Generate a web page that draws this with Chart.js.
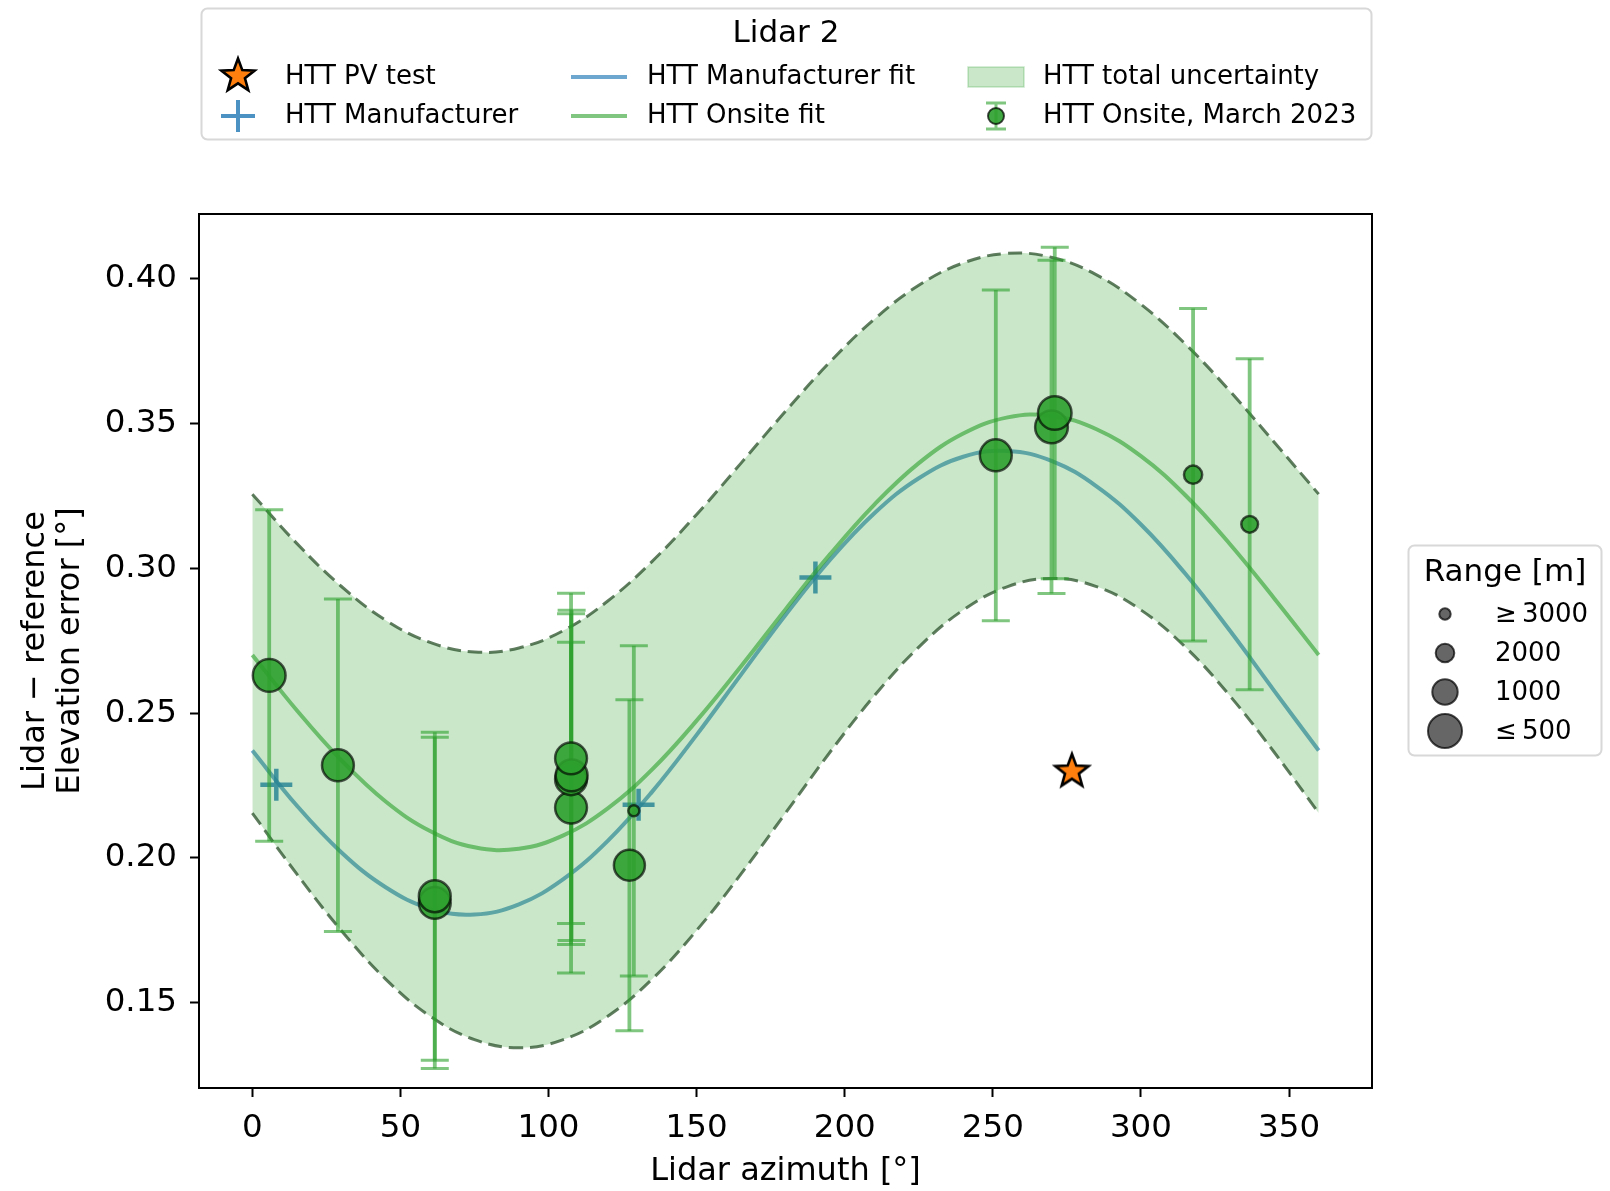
<!DOCTYPE html>
<html>
<head>
<meta charset="utf-8">
<script src="https://cdn.jsdelivr.net/npm/chart.js@4.4.1/dist/chart.umd.min.js"></script>
<style>
  html, body { margin: 0; padding: 0; background: #fff; }
  canvas { display: block; }
</style>
</head>
<body>
<canvas id="chart" width="1610" height="1191"></canvas>
<script>
// fit curves, every 15 deg
const fitAzimuth = [0, 15, 30, 45, 60, 75, 90, 105, 120, 135, 150, 165, 180, 195, 210, 225, 240, 255, 270, 285, 300, 315, 330, 345, 360];
const manufacturerFit = [0.2371, 0.2181, 0.2020, 0.1899, 0.1825, 0.1805, 0.1840, 0.1927, 0.2059, 0.2229, 0.2425, 0.2633, 0.2839, 0.3029, 0.3190, 0.3311, 0.3385, 0.3405, 0.3370, 0.3283, 0.3151, 0.2981, 0.2785, 0.2577, 0.2371];
const onsiteFit = [0.2701, 0.2510, 0.2338, 0.2195, 0.2093, 0.2037, 0.2032, 0.2078, 0.2171, 0.2306, 0.2474, 0.2662, 0.2858, 0.3048, 0.3220, 0.3363, 0.3465, 0.3521, 0.3526, 0.3480, 0.3387, 0.3252, 0.3084, 0.2896, 0.2701];
const upperBound = [0.3256, 0.3086, 0.2938, 0.2821, 0.2744, 0.2711, 0.2725, 0.2785, 0.2887, 0.3024, 0.3186, 0.3363, 0.3542, 0.3712, 0.3860, 0.3977, 0.4054, 0.4087, 0.4073, 0.4013, 0.3911, 0.3774, 0.3612, 0.3435, 0.3256];
const lowerBound = [0.2155, 0.1945, 0.1750, 0.1582, 0.1454, 0.1373, 0.1345, 0.1373, 0.1454, 0.1582, 0.1750, 0.1945, 0.2155, 0.2365, 0.2560, 0.2728, 0.2856, 0.2937, 0.2965, 0.2937, 0.2856, 0.2728, 0.2560, 0.2365, 0.2155];

// onsite measurements (March 2023)
const onsiteAzimuth = [5.7, 28.9, 61.6, 61.6, 107.6, 107.6, 107.8, 107.6, 127.3, 128.8, 251.0, 269.8, 270.9, 317.6, 336.7];
const onsiteError = [0.2630, 0.2320, 0.1845, 0.1868, 0.2174, 0.2272, 0.2285, 0.2344, 0.1975, 0.2163, 0.3390, 0.3488, 0.3536, 0.3323, 0.3152];
const onsiteUnc = [0.0572, 0.0574, 0.0572, 0.0566, 0.0571, 0.0571, 0.0570, 0.0570, 0.0571, 0.0570, 0.0571, 0.0575, 0.0572, 0.0574, 0.0571];
const onsiteRange = [550, 600, 600, 600, 600, 600, 600, 600, 650, 3000, 600, 550, 500, 2000, 2200];

const manufacturerAzimuth = [8.1, 130.4, 190.1];
const manufacturerError = [0.2253, 0.2184, 0.2968];

const pvAzimuth = [276.7];
const pvError = [0.2302];

const xTicks = [0, 50, 100, 150, 200, 250, 300, 350];
const yTicks = [0.15, 0.20, 0.25, 0.30, 0.35, 0.40];

const legendRanges = [3000, 2000, 1000, 500];
const legendRangeLabels = ['\u2265\u20093000', '2000', '1000', '\u2264\u2009500'];

const FONT = "'DejaVu Sans', sans-serif";
Chart.defaults.font.family = FONT;
Chart.defaults.color = '#000';

// marker size from range, as in the size legend
function rangeRadius(r) {
  const steps = [[500, 18], [1000, 13.7], [2000, 10.3], [3000, 6.7]];
  if (r <= steps[0][0]) return steps[0][1];
  for (let i = 1; i < steps.length; i++) {
    if (r <= steps[i][0]) {
      const t = (r - steps[i - 1][0]) / (steps[i][0] - steps[i - 1][0]);
      return steps[i - 1][1] + t * (steps[i][1] - steps[i - 1][1]);
    }
  }
  return steps[steps.length - 1][1];
}

function toXY(xs, ys) {
  return xs.map((x, i) => ({ x: x, y: ys[i] }));
}

// star marker
const star = document.createElement('canvas');
star.width = 44; star.height = 44;
(function () {
  const c = star.getContext('2d');
  c.beginPath();
  for (let i = 0; i < 10; i++) {
    const r = i % 2 === 0 ? 17.5 : 7.3;
    const a = -Math.PI / 2 + i * Math.PI / 5;
    c.lineTo(22 + r * Math.cos(a), 23 + r * Math.sin(a));
  }
  c.closePath();
  c.fillStyle = '#ff7f0e';
  c.fill();
  c.lineWidth = 2.6;
  c.strokeStyle = '#000';
  c.stroke();
})();

const GREEN_A = 'rgba(44,160,44,0.6)';
const BLUE_A = 'rgba(31,119,180,0.65)';
const BAND = 'rgba(44,160,44,0.25)';
const BAND_EDGE = 'rgba(35,75,35,0.72)';
const ONSITE_IDX = 5;

const decor = {
  id: 'decor',
  beforeDatasetDraw(chart, args) {
    if (args.index !== ONSITE_IDX) return;
    const { ctx, scales: { x, y } } = chart;
    ctx.save();
    ctx.strokeStyle = GREEN_A;
    onsiteAzimuth.forEach((az, i) => {
      const px = x.getPixelForValue(az);
      const top = y.getPixelForValue(onsiteError[i] + onsiteUnc[i]);
      const bot = y.getPixelForValue(onsiteError[i] - onsiteUnc[i]);
      ctx.lineWidth = 3.8;
      ctx.beginPath();
      ctx.moveTo(px, top); ctx.lineTo(px, bot);
      ctx.stroke();
      ctx.lineWidth = 3;
      ctx.beginPath();
      ctx.moveTo(px - 14, top); ctx.lineTo(px + 14, top);
      ctx.moveTo(px - 14, bot); ctx.lineTo(px + 14, bot);
      ctx.stroke();
    });
    ctx.restore();
  },
  afterDraw(chart) {
    const ctx = chart.ctx;
    const a = chart.chartArea;
    ctx.save();
    // frame
    ctx.strokeStyle = '#000';
    ctx.lineWidth = 2;
    ctx.strokeRect(a.left, a.top, a.right - a.left, a.bottom - a.top);

    // top legend
    ctx.beginPath();
    ctx.roundRect(201.5, 8.5, 1170, 131, 6);
    ctx.fillStyle = 'rgba(255,255,255,0.8)';
    ctx.fill();
    ctx.strokeStyle = '#d8d8d8';
    ctx.lineWidth = 2;
    ctx.stroke();

    ctx.fillStyle = '#000';
    ctx.textBaseline = 'middle';
    ctx.textAlign = 'center';
    ctx.font = '31px ' + FONT;
    ctx.fillText('Lidar 2', 786, 34);

    ctx.textAlign = 'left';
    ctx.font = '26px ' + FONT;
    const r1 = 77, r2 = 116;
    ctx.fillText('HTT PV test', 285, r1);
    ctx.fillText('HTT Manufacturer', 285, r2);
    ctx.fillText('HTT Manufacturer fit', 647, r1);
    ctx.fillText('HTT Onsite fit', 647, r2);
    ctx.fillText('HTT total uncertainty', 1043, r1);
    ctx.fillText('HTT Onsite, March 2023', 1043, r2);

    ctx.drawImage(star, 238 - 22, r1 - 1 - 23);

    ctx.strokeStyle = 'rgba(31,119,180,0.8)';
    ctx.lineWidth = 4;
    ctx.beginPath();
    ctx.moveTo(221, r2); ctx.lineTo(255, r2);
    ctx.moveTo(238, r2 - 16); ctx.lineTo(238, r2 + 16);
    ctx.stroke();

    ctx.lineWidth = 4;
    ctx.strokeStyle = BLUE_A;
    ctx.beginPath(); ctx.moveTo(571, r1); ctx.lineTo(627, r1); ctx.stroke();
    ctx.strokeStyle = GREEN_A;
    ctx.beginPath(); ctx.moveTo(571, r2); ctx.lineTo(627, r2); ctx.stroke();

    ctx.fillStyle = BAND;
    ctx.fillRect(968, 67, 56, 20);
    ctx.strokeStyle = BAND;
    ctx.lineWidth = 1.5;
    ctx.strokeRect(968, 67, 56, 20);

    ctx.strokeStyle = GREEN_A;
    ctx.lineWidth = 3;
    ctx.beginPath();
    ctx.moveTo(996, r2 - 13); ctx.lineTo(996, r2 + 13);
    ctx.moveTo(986, r2 - 13); ctx.lineTo(1006, r2 - 13);
    ctx.moveTo(986, r2 + 13); ctx.lineTo(1006, r2 + 13);
    ctx.stroke();
    ctx.beginPath();
    ctx.arc(996, r2, 8, 0, Math.PI * 2);
    ctx.fillStyle = 'rgba(44,160,44,0.9)';
    ctx.fill();
    ctx.strokeStyle = 'rgba(0,0,0,0.7)';
    ctx.lineWidth = 2;
    ctx.stroke();

    // range legend
    ctx.beginPath();
    ctx.roundRect(1408.5, 545.5, 193, 210, 6);
    ctx.fillStyle = 'rgba(255,255,255,0.8)';
    ctx.fill();
    ctx.strokeStyle = '#d8d8d8';
    ctx.lineWidth = 2;
    ctx.stroke();

    ctx.fillStyle = '#000';
    ctx.textAlign = 'center';
    ctx.font = '31px ' + FONT;
    ctx.fillText('Range [m]', 1505, 573);
    ctx.textAlign = 'left';
    ctx.font = '26px ' + FONT;
    const rows = [614, 653, 692, 731];
    legendRanges.forEach((rg, i) => {
      ctx.beginPath();
      ctx.arc(1445, rows[i], rangeRadius(rg) - 1, 0, Math.PI * 2);
      ctx.fillStyle = 'rgba(0,0,0,0.6)';
      ctx.fill();
      ctx.strokeStyle = 'rgba(0,0,0,0.7)';
      ctx.lineWidth = 2;
      ctx.stroke();
      ctx.fillStyle = '#000';
      ctx.fillText(legendRangeLabels[i], 1495, rows[i] + 1);
    });
    ctx.restore();
  }
};

const lineCommon = {
  type: 'line',
  showLine: true,
  pointRadius: 0,
  pointHoverRadius: 0,
  tension: 0.4,
};

new Chart(document.getElementById('chart'), {
  type: 'scatter',
  data: {
    datasets: [
      Object.assign({}, lineCommon, {
        label: 'upper',
        data: toXY(fitAzimuth, upperBound),
        borderColor: BAND_EDGE,
        borderWidth: 3,
        borderDash: [14, 7],
        fill: '+1',
        backgroundColor: BAND,
        order: 6
      }),
      Object.assign({}, lineCommon, {
        label: 'lower',
        data: toXY(fitAzimuth, lowerBound),
        borderColor: BAND_EDGE,
        borderWidth: 3,
        borderDash: [14, 7],
        fill: false,
        order: 5
      }),
      Object.assign({}, lineCommon, {
        label: 'HTT Manufacturer fit',
        data: toXY(fitAzimuth, manufacturerFit),
        borderColor: BLUE_A,
        borderWidth: 4,
        fill: false,
        order: 8
      }),
      Object.assign({}, lineCommon, {
        label: 'HTT Onsite fit',
        data: toXY(fitAzimuth, onsiteFit),
        borderColor: GREEN_A,
        borderWidth: 4,
        fill: false,
        order: 7
      }),
      {
        label: 'HTT Manufacturer',
        data: toXY(manufacturerAzimuth, manufacturerError),
        pointStyle: 'cross',
        pointRadius: 16,
        borderWidth: 4.5,
        borderColor: 'rgba(31,119,180,0.8)',
        order: 9
      },
      {
        label: 'HTT Onsite, March 2023',
        data: toXY(onsiteAzimuth, onsiteError),
        pointRadius: onsiteRange.map(r => rangeRadius(r) - 1.2),
        backgroundColor: 'rgba(44,160,44,0.9)',
        borderColor: 'rgba(0,0,0,0.65)',
        borderWidth: 2.5,
        order: 3
      },
      {
        label: 'HTT PV test',
        data: toXY(pvAzimuth, pvError),
        pointStyle: star,
        order: 1
      }
    ]
  },
  options: {
    responsive: false,
    animation: false,
    devicePixelRatio: 1,
    events: [],
    layout: { padding: { top: 214, right: 238, left: 0, bottom: 0 } },
    plugins: {
      legend: { display: false },
      tooltip: { enabled: false }
    },
    scales: {
      x: {
        type: 'linear',
        min: -18,
        max: 378,
        afterBuildTicks: s => { s.ticks = xTicks.map(v => ({ value: v })); },
        afterFit: s => { s.height = 103; },
        grid: { drawOnChartArea: false, drawTicks: true, tickLength: 9, tickWidth: 2, tickColor: '#000' },
        border: { display: false },
        ticks: { font: { size: 32.5 }, padding: 12, maxRotation: 0, autoSkip: false, callback: v => String(v) },
        title: { display: true, text: 'Lidar azimuth [\u00b0]', font: { size: 32 }, padding: { top: 0, bottom: 0 } }
      },
      y: {
        type: 'linear',
        min: 0.1206,
        max: 0.4223,
        afterBuildTicks: s => { s.ticks = yTicks.map(v => ({ value: v })); },
        afterFit: s => { s.width = 199; },
        grid: { drawOnChartArea: false, drawTicks: true, tickLength: 9, tickWidth: 2, tickColor: '#000' },
        border: { display: false },
        ticks: { font: { size: 32.5 }, padding: 13, autoSkip: false, callback: v => v.toFixed(2) },
        title: {
          display: true,
          text: ['Lidar \u2212 reference', 'Elevation error [\u00b0]'],
          font: { size: 32, lineHeight: 1.1 },
          padding: { top: 18, bottom: 0 }
        }
      }
    }
  },
  plugins: [decor]
});
</script>
</body>
</html>
